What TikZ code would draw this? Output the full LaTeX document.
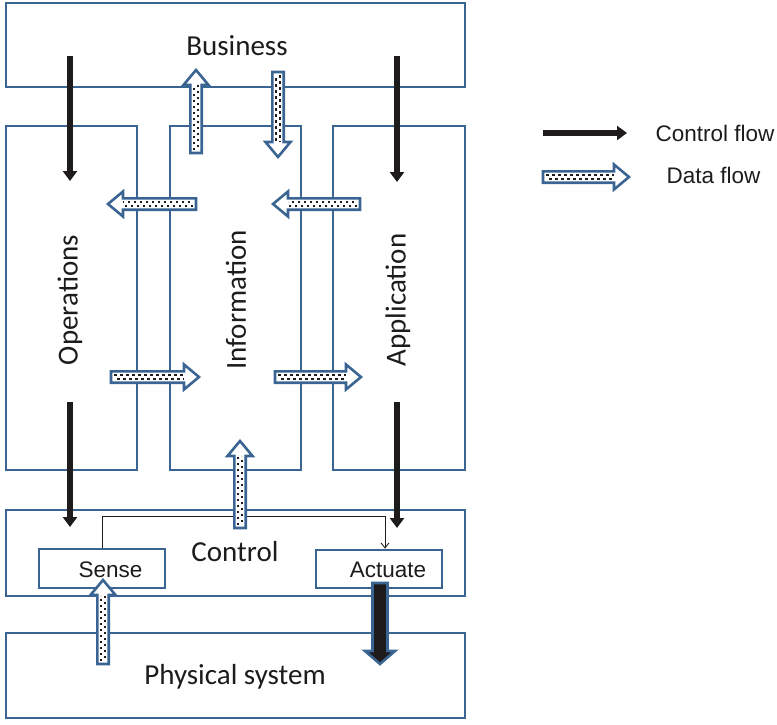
\documentclass[tikz,border=0pt]{standalone}
\usepackage{fontspec}
\setmainfont{Carlito}
\newfontfamily\arialfont{Liberation Sans}
\usetikzlibrary{arrows.meta}
\definecolor{frame}{RGB}{58,101,146}
\definecolor{ink}{RGB}{30,27,28}

% block arrow: [fill] {tail} {direction angle} {length} {half body} {half head} {head length}
\newcommand\blockarrow[7][white]{%
  \begin{scope}[shift={#2}, rotate=#3]
    \filldraw[draw=frame, fill=#1, line width=2.6pt, line join=miter]
      (0,-#5) -- ({#4-#7},-#5) -- ({#4-#7},-#6) -- (#4,0) -- ({#4-#7},#6)
      -- ({#4-#7},#5) -- (0,#5) -- cycle;
  \end{scope}}
% data flow arrow: hollow block arrow with a dotted core
\newcommand\dataflow[3]{%
  \blockarrow{#1}{#2}{#3}{5.7}{12.5}{15}
  \begin{scope}[shift={#1}, rotate=#2]
    \draw[ink, line width=2.4pt, dash pattern=on 2.5pt off 3.5pt] (3,-2.2) -- ({#3-15},-2.2);
    \draw[ink, line width=2.4pt, dash pattern=on 2.5pt off 3.5pt, dash phase=3pt] (3,2.2) -- ({#3-15},2.2);
  \end{scope}}

\begin{document}
\begin{tikzpicture}[x=1pt,y=-1pt,
  box/.style={draw=frame, line width=2.8pt, rectangle, inner sep=0pt},
  big/.style={font=\fontsize{29}{31}\selectfont, text=ink},
  small/.style={font=\arialfont\fontsize{22.5}{25}\selectfont, text=ink},
  ctrl/.style={draw=ink, line width=5.5pt, -{Triangle[length=10pt,width=14pt]}},
  link/.style={draw=ink, line width=0.9pt, -{Straight Barb[length=5pt,width=8pt]}}]
\useasboundingbox (0,0) rectangle (777,724);

% layers
\node[box, minimum width=459pt, minimum height=84pt] (business) at (235.5,45) {};
\node[box, minimum width=131pt, minimum height=344pt] (operations) at (71.5,298) {};
\node[box, minimum width=131pt, minimum height=344pt] (information) at (235.5,298) {};
\node[box, minimum width=132pt, minimum height=344pt] (application) at (399,298) {};
\node[box, minimum width=459pt, minimum height=86pt] (control) at (235.5,553) {};
\node[box, minimum width=126pt, minimum height=39pt] (sense) at (102,568.5) {};
\node[box, minimum width=126pt, minimum height=38pt] (actuate) at (379,569) {};
\node[box, minimum width=459pt, minimum height=85pt] (physical) at (235.5,675.5) {};

% labels
\node[big] (tbusiness) at (237,46) {Business};
\node[big, rotate=90] (toperations) at (70,300) {Operations};
\node[big, rotate=90] (tinformation) at (236,300) {Information};
\node[big, rotate=90] (tapplication) at (398,300) {Application};
\node[big] (tcontrol) at (235,552) {Control};
\node[small] (tsense) at (110.5,570) {Sense};
\node[small] (tactuate) at (388,570) {Actuate};
\node[big] (tphysical) at (235,677) {Physical system};

% sense to actuate loop
\draw[link] (sense.north) -- ++(0,-31) -| ([xshift=6pt]actuate.north);

% control flow
\coordinate (c1a) at (70,56);   \coordinate (c1b) at (70,181);
\coordinate (c2a) at (397,56);  \coordinate (c2b) at (397,182);
\coordinate (c3a) at (70,402);  \coordinate (c3b) at (70,527);
\coordinate (c4a) at (397,402); \coordinate (c4b) at (397,528);
\draw[ctrl] (c1a) -- (c1b);
\draw[ctrl] (c2a) -- (c2b);
\draw[ctrl] (c3a) -- (c3b);
\draw[ctrl] (c4a) -- (c4b);

% data flow
\dataflow{(196,153)}{90}{83}
\dataflow{(278,72)}{270}{85}
\dataflow{(196,204)}{180}{88}
\dataflow{(360,204)}{180}{87}
\dataflow{(111,377)}{0}{88}
\dataflow{(275,377)}{0}{86}
\dataflow{(240,528)}{90}{87}
\dataflow{(103,664)}{90}{84}

% actuation into the physical system
\blockarrow[ink]{(380,583)}{270}{81}{7.5}{15}{13}

% legend
\coordinate (lc1) at (543,133); \coordinate (lc2) at (627,133);
\draw[ctrl] (lc1) -- (lc2);
\node[small, anchor=west] (lcontrol) at (652,133) {Control flow};
\dataflow{(543,177)}{0}{86}
\node[small, anchor=west] (ldata) at (663,175) {Data flow};
\end{tikzpicture}
\end{document}
